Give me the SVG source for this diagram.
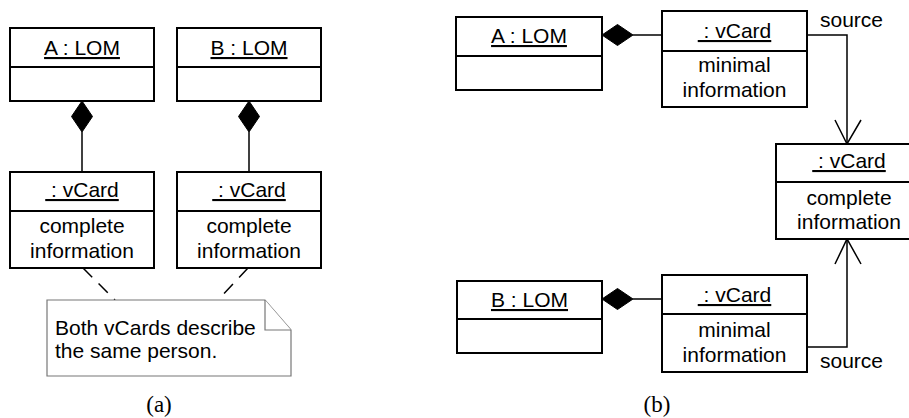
<svg xmlns="http://www.w3.org/2000/svg" width="909" height="418" viewBox="0 0 909 418">
<style>
.box{fill:#fff;stroke:#000;stroke-width:2}
.div{stroke:#000;stroke-width:2}
.t{font-family:"Liberation Sans",Arial,sans-serif;font-size:21px;fill:#000;text-anchor:middle}
.u{text-decoration:underline}
.l{font-family:"Liberation Sans",Arial,sans-serif;font-size:21px;fill:#000}
.cap{font-family:"Liberation Serif","Times New Roman",serif;font-size:23px;fill:#000;text-anchor:middle}
.con{fill:none;stroke:#000;stroke-width:1.5}
.dash{fill:none;stroke:#000;stroke-width:1.5;stroke-dasharray:13 9}
.dia{fill:#000;stroke:#000;stroke-width:1}
.note{fill:#fff;stroke:#777;stroke-width:1.2}
</style>
<rect width="909" height="418" fill="#fff"/>
<g id="connectors">
  <line class="con" x1="82" y1="132" x2="82" y2="172"/>
  <polygon class="dia" points="82,101 92.5,116.5 82,132 71.5,116.5"/>
  <line class="con" x1="249" y1="132" x2="249" y2="172"/>
  <polygon class="dia" points="249,101 259.5,116.5 249,132 238.5,116.5"/>
  <line class="dash" x1="83" y1="268" x2="115" y2="300"/>
  <line class="dash" x1="248" y1="268" x2="218" y2="300"/>
  <line class="con" x1="633" y1="35" x2="662" y2="35"/>
  <polygon class="dia" points="602,35 617.5,24.5 633,35 617.5,45.5"/>
  <line class="con" x1="633" y1="299" x2="662" y2="299"/>
  <polygon class="dia" points="602,299 617.5,288.5 633,299 617.5,309.5"/>
  <polyline class="con" points="807,35 847,35 847,144"/>
  <polyline class="con" points="835,120 847,144 861,120"/>
  <polyline class="con" points="807,347 847,347 847,239"/>
  <polyline class="con" points="835,264 847,239 861,264"/>
  <text class="l" x="820" y="27">source</text>
  <text class="l" x="820" y="368">source</text>
</g>
<g id="a-lomA">
  <rect class="box" x="10" y="28" width="144" height="73"/>
  <line class="div" x1="10" y1="67" x2="154" y2="67"/>
  <text class="t u" x="82" y="55">A : LOM</text>
</g>
<g id="a-lomB">
  <rect class="box" x="177" y="28" width="144" height="73"/>
  <line class="div" x1="177" y1="67" x2="321" y2="67"/>
  <text class="t u" x="249" y="55">B : LOM</text>
</g>
<g id="a-vcardA">
  <rect class="box" x="10" y="172" width="144" height="96"/>
  <line class="div" x1="10" y1="211" x2="154" y2="211"/>
  <text class="t u" x="82" y="197">&#160;: vCard</text>
  <text class="t" x="82" y="233">complete</text>
  <text class="t" x="82" y="258">information</text>
</g>
<g id="a-vcardB">
  <rect class="box" x="177" y="172" width="144" height="96"/>
  <line class="div" x1="177" y1="211" x2="321" y2="211"/>
  <text class="t u" x="249" y="197">&#160;: vCard</text>
  <text class="t" x="249" y="233">complete</text>
  <text class="t" x="249" y="258">information</text>
</g>
<g id="a-note">
  <path class="note" d="M47,300 H265 L291,330 V376 H47 Z"/>
  <path class="note" d="M265,300 V330 H291" fill="none"/>
  <text class="l" x="55" y="335">Both vCards describe</text>
  <text class="l" x="55" y="358">the same person.</text>
</g>
<text class="cap" x="159" y="412">(a)</text>
<g id="b-lomA">
  <rect class="box" x="456" y="17" width="146" height="73"/>
  <line class="div" x1="456" y1="56" x2="602" y2="56"/>
  <text class="t u" x="529" y="43">A : LOM</text>
</g>
<g id="b-vcardA">
  <rect class="box" x="662" y="11" width="145" height="96"/>
  <line class="div" x1="662" y1="51" x2="807" y2="51"/>
  <text class="t u" x="734.5" y="38">&#160;: vCard</text>
  <text class="t" x="734.5" y="72">minimal</text>
  <text class="t" x="734.5" y="97">information</text>
</g>
<g id="b-vcardC">
  <rect class="box" x="776" y="144" width="144" height="95"/>
  <line class="div" x1="776" y1="182" x2="920" y2="182"/>
  <text class="t u" x="849" y="168">&#160;: vCard</text>
  <text class="t" x="849" y="205">complete</text>
  <text class="t" x="849" y="229">information</text>
</g>
<g id="b-lomB">
  <rect class="box" x="457" y="281" width="145" height="72"/>
  <line class="div" x1="457" y1="319" x2="602" y2="319"/>
  <text class="t u" x="529.5" y="307">B : LOM</text>
</g>
<g id="b-vcardB">
  <rect class="box" x="662" y="275" width="145" height="97"/>
  <line class="div" x1="662" y1="314" x2="807" y2="314"/>
  <text class="t u" x="734.5" y="302">&#160;: vCard</text>
  <text class="t" x="734.5" y="337">minimal</text>
  <text class="t" x="734.5" y="362">information</text>
</g>
<text class="cap" x="657" y="412">(b)</text>
</svg>
